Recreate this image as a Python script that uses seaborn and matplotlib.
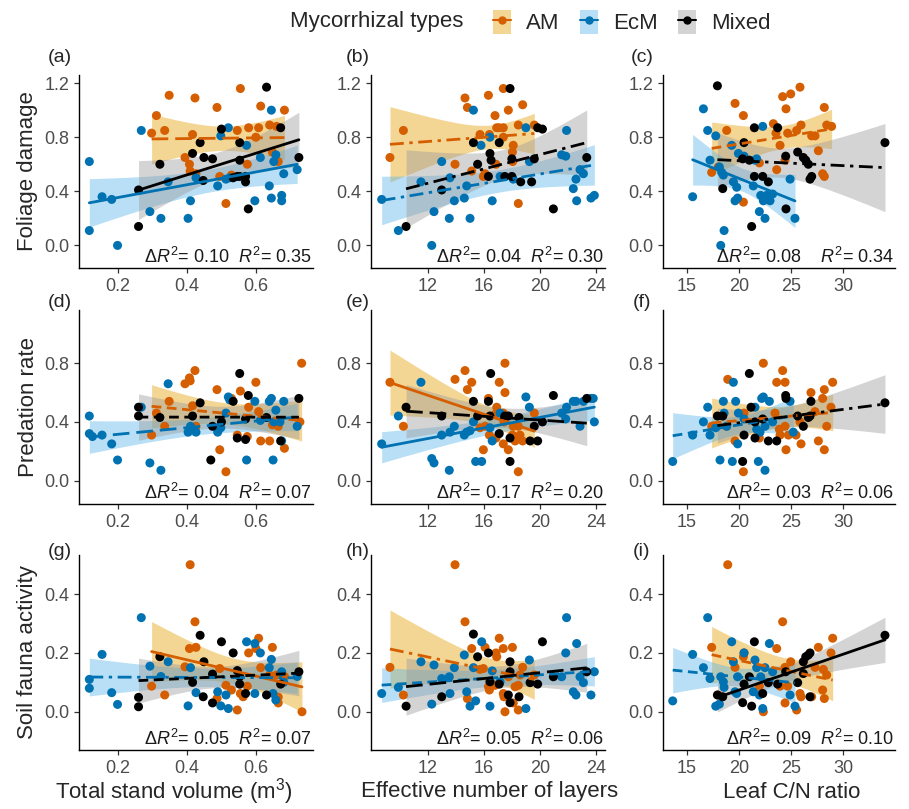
import matplotlib
matplotlib.use("Agg")
import numpy as np
import pandas as pd
import seaborn as sns
from matplotlib import pyplot as plt
from matplotlib.patches import Patch
from matplotlib.lines import Line2D

# ---- (a) foliage damage ~ total stand volume
A_AM_X = [0.297, 0.311, 0.335, 0.348, 0.394, 0.407, 0.409, 0.416, 0.423, 0.426, 0.487, 0.495, 0.513,
          0.529, 0.546, 0.555, 0.575, 0.579, 0.600, 0.608, 0.614, 0.640, 0.648, 0.660, 0.665, 0.683]
A_AM_Y = [0.83, 0.96, 0.85, 1.11, 0.65, 0.60, 0.55, 0.82, 1.09, 0.53, 1.02, 0.51, 0.31,
          0.52, 0.85, 1.16, 0.60, 0.87, 0.80, 0.87, 1.03, 0.89, 0.69, 0.88, 0.62, 1.00]
A_ECM_X = [0.116, 0.116, 0.153, 0.181, 0.198, 0.267, 0.292, 0.324, 0.345, 0.403, 0.410, 0.426, 0.489, 0.498, 0.520,
           0.513, 0.524, 0.573, 0.597, 0.613, 0.639, 0.645, 0.645, 0.652, 0.658, 0.675, 0.675, 0.681, 0.720]
A_ECM_Y = [0.62, 0.11, 0.36, 0.34, 0.00, 0.85, 0.25, 0.20, 0.47, 0.20, 0.33, 0.50, 0.44, 0.81, 0.87,
           0.49, 0.50, 0.74, 0.33, 0.65, 0.44, 1.00, 0.35, 0.62, 0.67, 0.37, 0.33, 0.53, 0.56]
A_MIX_X = [0.259, 0.259, 0.321, 0.416, 0.438, 0.449, 0.474, 0.447, 0.500, 0.553,
           0.553, 0.534, 0.546, 0.570, 0.570, 0.553, 0.578, 0.631, 0.672, 0.725]
A_MIX_Y = [0.14, 0.41, 0.60, 0.68, 0.76, 0.65, 0.64, 0.48, 0.86, 0.76,
           0.51, 0.50, 0.51, 0.51, 0.47, 0.63, 0.27, 1.17, 0.87, 0.65]

# ---- (b) foliage damage ~ effective number of layers
B_AM_X = [9.31, 10.27, 13.95, 14.66, 14.83, 15.14, 15.73, 15.97, 16.09, 16.33, 16.40, 16.80, 16.92,
          17.10, 17.39, 16.87, 17.39, 17.39, 17.75, 18.04, 18.10, 18.06, 18.46, 18.46, 18.77, 19.60]
B_AM_Y = [0.65, 0.85, 0.60, 1.09, 1.02, 0.55, 0.82, 0.51, 0.53, 1.11, 0.82, 0.96, 0.87,
          0.87, 0.87, 0.60, 1.16, 0.80, 1.00, 0.69, 0.74, 0.62, 0.89, 0.31, 1.04, 0.89]
B_ECM_X = [8.72, 9.91, 11.52, 12.29, 12.45, 13.00, 13.54, 13.59, 13.90, 14.61, 14.78, 15.02, 15.26, 15.80, 16.44,
           16.60, 17.16, 18.10, 19.00, 19.25, 21.55, 21.84, 21.90, 22.38, 22.57, 22.62, 22.86, 23.10, 23.64, 23.88]
B_ECM_Y = [0.34, 0.11, 0.47, 0.00, 0.25, 0.62, 0.20, 0.50, 0.33, 0.35, 0.44, 0.20, 1.00, 0.74, 0.80,
           0.33, 0.51, 0.49, 0.87, 0.62, 0.67, 0.66, 0.85, 0.42, 0.49, 0.33, 0.56, 0.53, 0.35, 0.37]
B_MIX_X = [10.46, 13.00, 15.26, 15.56, 16.33, 16.44, 16.52, 17.10, 17.50, 17.87,
           18.00, 18.00, 18.63, 19.41, 19.60, 19.84, 20.18, 20.96, 23.34]
B_MIX_Y = [0.14, 0.41, 0.76, 0.60, 0.51, 0.68, 0.63, 0.76, 0.51, 1.16,
           0.51, 0.64, 0.47, 0.47, 0.64, 0.87, 0.86, 0.27, 0.65]

# ---- (c) foliage damage ~ leaf C/N ratio
C_AM_X = [17.39, 18.03, 18.83, 19.63, 20.43, 20.43, 21.96, 23.30, 23.55, 23.62, 23.94, 24.19, 24.42, 24.51,
          24.67, 24.96, 25.53, 25.85, 25.95, 26.97, 27.29, 27.61, 28.02, 28.18, 28.18, 28.41, 28.88]
C_AM_Y = [0.54, 0.58, 0.85, 1.05, 0.96, 0.32, 0.61, 0.90, 0.83, 0.56, 0.74, 1.10, 0.63, 1.01,
          0.83, 1.12, 0.85, 1.17, 0.89, 0.81, 0.81, 0.70, 0.53, 0.51, 1.02, 0.89, 0.88]
C_ECM_X = [15.57, 16.60, 17.01, 17.23, 17.78, 18.13, 18.26, 18.35, 18.51, 18.58, 19.31, 19.47, 19.63, 19.79, 19.88,
           19.95, 20.49, 21.38, 21.54, 21.70, 21.96, 22.28, 22.09, 22.34, 22.50, 22.66, 22.98, 23.23, 24.90, 25.37]
C_ECM_Y = [0.36, 1.01, 0.85, 0.63, 0.81, 0.58, 0.00, 0.54, 0.52, 0.11, 0.74, 0.47, 0.33, 0.43, 0.35,
           0.68, 0.66, 0.44, 0.63, 0.64, 0.25, 0.88, 0.37, 0.33, 0.20, 0.37, 0.33, 0.38, 0.49, 0.20]
C_MIX_X = [17.94, 18.45, 20.36, 20.49, 21.00, 21.22, 21.48, 21.48, 22.28, 22.82,
           23.71, 24.48, 24.51, 25.63, 26.17, 26.40, 26.65, 26.81, 26.97, 33.99]
C_MIX_Y = [1.18, 0.42, 0.64, 0.76, 0.63, 0.14, 0.51, 0.87, 0.51, 0.47,
           0.87, 0.66, 0.27, 0.69, 0.65, 0.63, 0.60, 0.49, 0.51, 0.76]

# ---- (d) predation rate ~ total stand volume
D_AM_X = [0.297, 0.311, 0.335, 0.348, 0.394, 0.407, 0.409, 0.416, 0.423, 0.426, 0.487, 0.495, 0.513, 0.529,
          0.546, 0.555, 0.575, 0.579, 0.600, 0.608, 0.614, 0.640, 0.648, 0.660, 0.665, 0.683, 0.733, 0.728]
D_AM_Y = [0.31, 0.46, 0.37, 0.54, 0.66, 0.70, 0.68, 0.51, 0.75, 0.37, 0.62, 0.21, 0.06, 0.56,
          0.31, 0.61, 0.30, 0.50, 0.67, 0.47, 0.27, 0.27, 0.38, 0.40, 0.37, 0.22, 0.80, 0.40]
D_ECM_X = [0.116, 0.116, 0.125, 0.153, 0.181, 0.198, 0.267, 0.292, 0.324, 0.345, 0.403, 0.410, 0.426, 0.489, 0.498,
           0.513, 0.520, 0.524, 0.573, 0.597, 0.613, 0.639, 0.645, 0.652, 0.658, 0.650, 0.670, 0.675, 0.681, 0.720]
D_ECM_Y = [0.44, 0.32, 0.30, 0.31, 0.25, 0.14, 0.50, 0.12, 0.07, 0.66, 0.33, 0.37, 0.33, 0.33, 0.36,
           0.46, 0.57, 0.55, 0.14, 0.54, 0.41, 0.54, 0.56, 0.40, 0.48, 0.14, 0.40, 0.27, 0.54, 0.37]
D_MIX_X = [0.259, 0.259, 0.321, 0.416, 0.438, 0.474, 0.469, 0.500, 0.534,
           0.546, 0.553, 0.570, 0.570, 0.578, 0.631, 0.672, 0.725]
D_MIX_Y = [0.50, 0.44, 0.43, 0.44, 0.53, 0.37, 0.14, 0.40, 0.54,
           0.29, 0.73, 0.28, 0.42, 0.58, 0.43, 0.27, 0.56]

# ---- (e) predation rate ~ effective number of layers
E_AM_X = [9.31, 10.27, 13.95, 14.66, 14.83, 15.14, 15.73, 15.97, 16.09, 16.33, 16.40, 16.80, 16.92, 17.10, 17.39,
          16.87, 17.51, 17.44, 17.51, 17.39, 17.75, 18.04, 18.10, 18.23, 18.46, 18.46, 18.58, 18.77, 19.60]
E_AM_Y = [0.67, 0.37, 0.69, 0.75, 0.62, 0.67, 0.36, 0.21, 0.37, 0.56, 0.31, 0.45, 0.50, 0.67, 0.46,
          0.29, 0.80, 0.40, 0.60, 0.25, 0.21, 0.31, 0.37, 0.27, 0.37, 0.06, 0.31, 0.27, 0.46]
E_ECM_X = [8.72, 9.91, 11.52, 12.29, 12.45, 13.00, 13.54, 13.59, 13.90, 14.61, 14.78, 15.02, 15.26, 15.42, 15.85,
           16.44, 16.60, 17.16, 19.00, 19.25, 21.55, 21.84, 21.90, 22.38, 22.57, 22.86, 23.10, 23.64, 23.80, 23.88]
E_ECM_Y = [0.25, 0.44, 0.67, 0.15, 0.12, 0.31, 0.07, 0.33, 0.37, 0.31, 0.33, 0.34, 0.40, 0.13, 0.13,
           0.36, 0.27, 0.46, 0.57, 0.50, 0.46, 0.42, 0.50, 0.54, 0.54, 0.37, 0.54, 0.56, 0.56, 0.40]
E_MIX_X = [10.46, 13.00, 15.26, 15.56, 16.33, 16.49, 16.44, 17.10, 17.50, 17.75,
           17.87, 17.87, 18.51, 19.30, 19.60, 19.84, 20.18, 20.96, 23.34]
E_MIX_Y = [0.50, 0.44, 0.54, 0.44, 0.54, 0.73, 0.44, 0.32, 0.44, 0.44,
           0.29, 0.13, 0.43, 0.27, 0.37, 0.27, 0.40, 0.58, 0.56]

# ---- (f) predation rate ~ leaf C/N ratio
F_AM_X = [17.39, 18.93, 19.63, 20.43, 20.49, 18.83, 21.96, 22.34, 23.46, 23.62, 23.87, 23.94, 24.19, 24.42, 24.42,
          24.51, 24.74, 25.47, 25.85, 25.95, 26.90, 27.29, 27.61, 28.02, 28.18, 28.18, 28.41, 28.82, 28.98]
F_AM_Y = [0.37, 0.69, 0.27, 0.06, 0.46, 0.37, 0.29, 0.80, 0.46, 0.67, 0.35, 0.31, 0.75, 0.67, 0.37,
          0.21, 0.31, 0.31, 0.40, 0.25, 0.60, 0.47, 0.27, 0.56, 0.62, 0.21, 0.37, 0.50, 0.67]
F_ECM_X = [13.66, 15.57, 16.60, 17.01, 17.23, 17.78, 18.19, 18.51, 18.58, 18.83, 19.37, 19.47, 19.69, 19.88,
           19.95, 20.49, 21.54, 21.86, 22.02, 22.18, 22.34, 22.50, 22.50, 22.92, 23.23, 21.70, 24.90, 25.21]
F_ECM_Y = [0.13, 0.31, 0.40, 0.50, 0.31, 0.36, 0.14, 0.54, 0.46, 0.37, 0.13, 0.67, 0.54, 0.25,
           0.46, 0.42, 0.50, 0.13, 0.33, 0.56, 0.57, 0.07, 0.37, 0.54, 0.40, 0.35, 0.54, 0.33]
F_MIX_X = [17.94, 18.45, 20.49, 20.36, 21.00, 21.16, 21.54, 21.54, 22.28, 22.82,
           23.62, 24.48, 24.51, 25.63, 26.17, 26.65, 26.81, 26.90, 33.99]
F_MIX_Y = [0.44, 0.44, 0.31, 0.13, 0.73, 0.50, 0.40, 0.29, 0.42, 0.27,
           0.27, 0.58, 0.56, 0.44, 0.37, 0.43, 0.44, 0.54, 0.53]

# ---- (g) soil fauna activity ~ total stand volume
G_AM_X = [0.297, 0.335, 0.394, 0.407, 0.409, 0.423, 0.426, 0.487, 0.495, 0.513, 0.529, 0.546, 0.555,
          0.563, 0.575, 0.579, 0.600, 0.608, 0.614, 0.640, 0.648, 0.660, 0.665, 0.665, 0.683, 0.734]
G_AM_Y = [0.087, 0.057, 0.153, 0.215, 0.50, 0.306, 0.219, 0.045, 0.147, 0.09, 0.074, 0.006, 0.062,
          0.051, 0.087, 0.20, 0.215, 0.25, 0.15, 0.125, 0.219, 0.125, 0.03, 0.05, 0.12, 0.0]
G_ECM_X = [0.116, 0.116, 0.153, 0.181, 0.198, 0.267, 0.292, 0.324, 0.345, 0.403, 0.410, 0.426, 0.489, 0.498,
           0.513, 0.520, 0.573, 0.597, 0.597, 0.613, 0.639, 0.645, 0.650, 0.658, 0.675, 0.681, 0.720]
G_ECM_Y = [0.11, 0.08, 0.195, 0.065, 0.025, 0.32, 0.155, 0.12, 0.17, 0.02, 0.15, 0.065, 0.068, 0.02,
           0.057, 0.011, 0.238, 0.062, 0.232, 0.20, 0.15, 0.178, 0.062, 0.04, 0.136, 0.10, 0.12]
G_MIX_X = [0.259, 0.259, 0.321, 0.416, 0.438, 0.447, 0.449, 0.474, 0.474,
           0.500, 0.534, 0.546, 0.553, 0.553, 0.570, 0.631, 0.672, 0.725]
G_MIX_Y = [0.049, 0.017, 0.187, 0.10, 0.26, 0.051, 0.17, 0.03, 0.128,
           0.238, 0.20, 0.14, 0.12, 0.094, 0.062, 0.057, 0.094, 0.136]

# ---- (h) soil fauna activity ~ effective number of layers
H_AM_X = [9.31, 10.27, 13.95, 14.66, 14.83, 15.14, 15.73, 15.97, 16.09, 16.33, 16.40, 16.80, 16.92, 17.10,
          17.39, 16.87, 17.39, 17.44, 17.51, 17.75, 18.04, 18.10, 18.23, 18.46, 18.46, 18.58, 18.77, 19.60]
H_AM_Y = [0.151, 0.057, 0.50, 0.306, 0.045, 0.215, 0.144, 0.147, 0.219, 0.085, 0.074, 0.09, 0.187, 0.25,
          0.215, 0.20, 0.062, 0.051, 0.0, 0.119, 0.219, 0.03, 0.085, 0.09, 0.006, 0.125, 0.151, 0.125]
H_ECM_X = [8.72, 9.91, 11.52, 12.29, 12.45, 13.00, 13.54, 13.59, 13.90, 14.61, 14.78, 15.02, 15.26, 15.42, 15.85,
           16.44, 16.60, 17.16, 19.00, 19.25, 21.55, 21.84, 21.90, 22.38, 22.57, 22.62, 22.86, 23.10, 23.64, 23.88]
H_ECM_Y = [0.062, 0.083, 0.17, 0.026, 0.159, 0.113, 0.119, 0.062, 0.15, 0.193, 0.068, 0.019, 0.15, 0.037, 0.238,
           0.019, 0.139, 0.102, 0.011, 0.176, 0.119, 0.20, 0.32, 0.068, 0.057, 0.232, 0.119, 0.099, 0.057, 0.136]
H_MIX_X = [10.46, 13.00, 15.26, 15.56, 16.33, 16.44, 17.10, 17.75, 17.87,
           17.87, 17.87, 18.51, 19.30, 19.84, 20.18, 20.96, 23.34]
H_MIX_Y = [0.019, 0.051, 0.264, 0.187, 0.20, 0.102, 0.094, 0.057, 0.17,
           0.031, 0.136, 0.051, 0.099, 0.094, 0.238, 0.119, 0.136]

# ---- (i) soil fauna activity ~ leaf C/N ratio
I_AM_X = [17.39, 18.03, 18.93, 19.63, 20.43, 20.49, 21.96, 22.34, 23.62, 23.94, 24.19, 24.42, 24.42, 24.67,
          24.96, 25.53, 25.85, 25.95, 27.29, 27.61, 28.02, 28.09, 28.18, 28.41, 28.82, 28.98, 26.97]
I_AM_Y = [0.219, 0.057, 0.50, 0.151, 0.187, 0.20, 0.087, 0.0, 0.215, 0.087, 0.306, 0.03, 0.151, 0.087,
          0.17, 0.006, 0.062, 0.051, 0.151, 0.219, 0.074, 0.144, 0.045, 0.125, 0.20, 0.25, 0.051]
I_ECM_X = [13.66, 15.57, 16.60, 17.01, 17.23, 17.78, 18.13, 18.26, 18.51, 18.58, 19.31, 19.47, 19.63, 19.79,
           19.88, 20.49, 21.38, 21.54, 21.70, 21.96, 22.09, 22.28, 22.50, 22.92, 23.23, 24.90, 25.37]
I_ECM_Y = [0.037, 0.195, 0.15, 0.32, 0.113, 0.019, 0.026, 0.119, 0.102, 0.083, 0.238, 0.17, 0.068, 0.062,
           0.119, 0.20, 0.068, 0.176, 0.15, 0.057, 0.119, 0.011, 0.15, 0.232, 0.136, 0.057, 0.019]
I_MIX_X = [17.94, 18.45, 20.36, 20.49, 21.00, 21.22, 21.48, 22.28, 22.82, 23.71,
           24.48, 25.63, 26.17, 26.17, 26.40, 26.65, 26.81, 26.81, 33.99]
I_MIX_Y = [0.057, 0.051, 0.031, 0.094, 0.119, 0.019, 0.238, 0.062, 0.099, 0.094,
           0.136, 0.099, 0.17, 0.13, 0.187, 0.193, 0.20, 0.051, 0.26]

GROUPS = ["AM", "EcM", "Mixed"]
ROW_LABELS = ["Foliage damage", "Predation rate", "Soil fauna activity"]
COL_LABELS = ["Total stand volume (m$^3$)", "Effective number of layers", "Leaf C/N ratio"]
NOTES = [
    ["0.10", "0.35"], ["0.04", "0.30"], ["0.08", "0.34"],
    ["0.04", "0.07"], ["0.17", "0.20"], ["0.03", "0.06"],
    ["0.05", "0.07"], ["0.05", "0.06"], ["0.09", "0.10"],
]
TAGS = ["(a)", "(b)", "(c)", "(d)", "(e)", "(f)", "(g)", "(h)", "(i)"]

point_colors = {"AM": "#D55E00", "EcM": "#0072B2", "Mixed": "#000000"}
band_colors = {"AM": "#E69F00", "EcM": "#56B4E9", "Mixed": "#999999"}

SOLID = "-"
DASH = (0, (3.5, 2))
LONGDASH = (0, (6, 2.5))
DOTDASH = (0, (5, 2, 1.2, 2))

panel_data = [
    [(A_AM_X, A_AM_Y), (A_ECM_X, A_ECM_Y), (A_MIX_X, A_MIX_Y)],
    [(B_AM_X, B_AM_Y), (B_ECM_X, B_ECM_Y), (B_MIX_X, B_MIX_Y)],
    [(C_AM_X, C_AM_Y), (C_ECM_X, C_ECM_Y), (C_MIX_X, C_MIX_Y)],
    [(D_AM_X, D_AM_Y), (D_ECM_X, D_ECM_Y), (D_MIX_X, D_MIX_Y)],
    [(E_AM_X, E_AM_Y), (E_ECM_X, E_ECM_Y), (E_MIX_X, E_MIX_Y)],
    [(F_AM_X, F_AM_Y), (F_ECM_X, F_ECM_Y), (F_MIX_X, F_MIX_Y)],
    [(G_AM_X, G_AM_Y), (G_ECM_X, G_ECM_Y), (G_MIX_X, G_MIX_Y)],
    [(H_AM_X, H_AM_Y), (H_ECM_X, H_ECM_Y), (H_MIX_X, H_MIX_Y)],
    [(I_AM_X, I_AM_Y), (I_ECM_X, I_ECM_Y), (I_MIX_X, I_MIX_Y)],
]
panel_styles = [
    [LONGDASH, SOLID, SOLID], [DOTDASH, DOTDASH, DOTDASH], [DASH, SOLID, DOTDASH],
    [DASH, LONGDASH, DASH], [SOLID, SOLID, LONGDASH], [DASH, DASH, DOTDASH],
    [SOLID, DOTDASH, DASH], [DOTDASH, DASH, LONGDASH], [DASH, DASH, SOLID],
]


def linear_fit(xs, ys, n=80):
    # ordinary least squares with a 95% confidence band for the mean
    x = np.asarray(xs, float)
    y = np.asarray(ys, float)
    b1, b0 = np.polyfit(x, y, 1)
    resid = y - (b0 + b1 * x)
    dof = len(x) - 2
    s = np.sqrt(np.sum(resid ** 2) / dof)
    z = 1.96
    t = z + (z ** 3 + z) / (4 * dof)
    grid = np.linspace(x.min(), x.max(), n)
    fit = b0 + b1 * grid
    se = s * np.sqrt(1 / len(x) + (grid - x.mean()) ** 2 / np.sum((x - x.mean()) ** 2))
    return pd.DataFrame({"x": grid, "fit": fit, "lo": fit - t * se, "hi": fit + t * se})


sns.set_style("ticks")
plt.rcParams['font.family'] = ['Liberation Sans', 'DejaVu Sans']
plt.rcParams['mathtext.fontset'] = 'custom'
plt.rcParams['mathtext.rm'] = 'Liberation Sans'
plt.rcParams['mathtext.it'] = 'Liberation Sans:italic'

W, H = 909, 809
fig = plt.figure(figsize=(W / 100, H / 100), dpi=100)

col_px = [(79, 313), (371, 605), (663, 895)]
row_px = [(75, 268), (310, 504), (555, 750)]
row_ylim = [(-0.167, 1.26), (-0.16, 1.163), (-0.13, 0.533)]
row_yticks = [[0.0, 0.4, 0.8, 1.2], [0.0, 0.4, 0.8], [0.0, 0.2, 0.4]]
col_xlim = [(0.086, 0.766), (7.96, 24.64), (12.73, 34.95)]
col_xticks = [[0.2, 0.4, 0.6], [12, 16, 20, 24], [15, 20, 25, 30]]
col_xfmt = ["{:.1f}", "{:.0f}", "{:.0f}"]
tag_x = [60, 358, 642]
tag_y = [57, 302, 551]

for k in range(9):
    r, c = divmod(k, 3)
    x0, x1 = col_px[c]
    y0, y1 = row_px[r]
    ax = fig.add_axes([x0 / W, 1 - y1 / H, (x1 - x0) / W, (y1 - y0) / H])

    frames = []
    for g, (xs, ys) in zip(GROUPS, panel_data[k]):
        frames.append(pd.DataFrame({"x": xs, "y": ys, "type": g}))
    df = pd.concat(frames, ignore_index=True)

    for g, ls, (xs, ys) in zip(GROUPS, panel_styles[k], panel_data[k]):
        fit = linear_fit(xs, ys)
        ax.fill_between(fit["x"], fit["lo"], fit["hi"], color=band_colors[g], alpha=0.42,
                        linewidth=0, zorder=1)
        sns.lineplot(data=fit, x="x", y="fit", ax=ax, color=point_colors[g], lw=2.0,
                     linestyle=ls, zorder=4)

    sns.scatterplot(data=df, x="x", y="y", hue="type", palette=point_colors, hue_order=GROUPS,
                    s=42, linewidth=0, ax=ax, legend=False, zorder=3)

    ax.set_xlim(*col_xlim[c])
    ax.set_ylim(*row_ylim[r])
    ax.set_xticks(col_xticks[c])
    ax.set_xticklabels([col_xfmt[c].format(v) for v in col_xticks[c]])
    ax.set_yticks(row_yticks[r])
    ax.set_yticklabels(["{:.1f}".format(v) for v in row_yticks[r]])
    ax.set_xlabel("")
    ax.set_ylabel("")
    ax.tick_params(labelsize=13, colors="#333333", labelcolor="#4D4D4D", length=3.5, width=0.9)
    sns.despine(ax=ax)
    for side in ["left", "bottom"]:
        ax.spines[side].set_color("black")
        ax.spines[side].set_linewidth(1.0)

    d, r2 = NOTES[k]
    gap = "    " if k == 2 else "  "
    ax.text(0.995, 0.005, r"$\Delta R^2$= " + d + gap + r"$R^2$= " + r2, transform=ax.transAxes,
            ha="right", va="bottom", fontsize=13, color="#1A1A1A")

    fig.text(tag_x[c] / W, 1 - tag_y[r] / H, TAGS[k], ha="center", va="center", fontsize=14)

for r, lab in enumerate(ROW_LABELS):
    y0, y1 = row_px[r]
    fig.text(28 / W, 1 - (y0 + y1) / 2 / H, lab, rotation=90, ha="center", va="center", fontsize=16)

xlab_x = [174, 490, 792]
for c, lab in enumerate(COL_LABELS):
    fig.text(xlab_x[c] / W, 1 - 792 / H, lab, ha="center", va="center", fontsize=16)

# legend across the top
fig.text(290 / W, 1 - 22 / H, "Mycorrhizal types", ha="left", va="center", fontsize=16)
handles = []
for g in GROUPS:
    patch = Patch(facecolor=band_colors[g], alpha=0.42, edgecolor="none")
    mark = Line2D([0], [0], color=point_colors[g], marker="o", markersize=5, lw=1.5)
    handles.append((patch, mark))
fig.legend(handles, GROUPS, loc="center left", bbox_to_anchor=(482 / W, 1 - 22 / H), ncol=3,
           frameon=False, fontsize=16, handlelength=0.8, handleheight=1.3, handletextpad=0.7,
           columnspacing=0.9, borderpad=0.0)

fig.savefig("out.png", dpi=100)
